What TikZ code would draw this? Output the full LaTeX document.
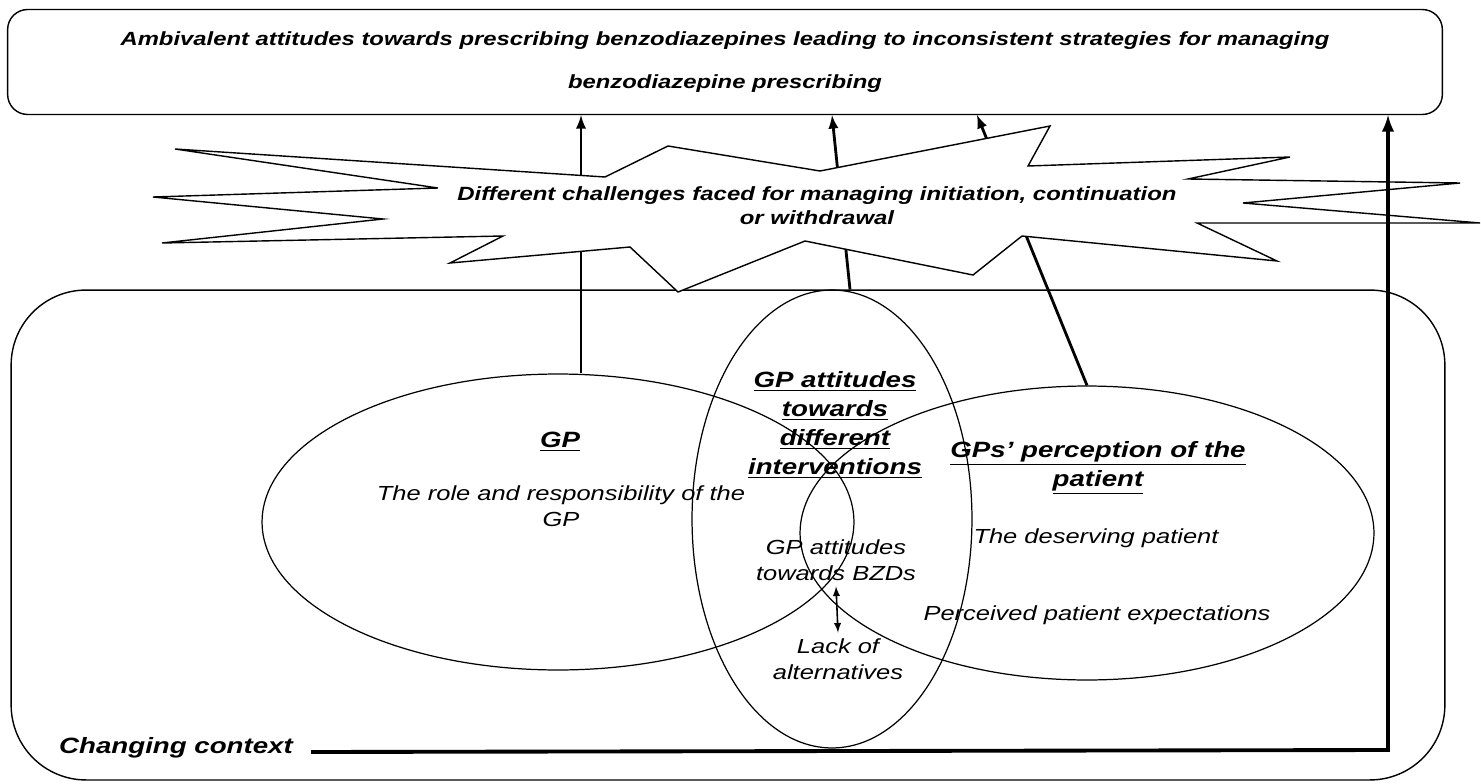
\documentclass[tikz,border=0pt]{standalone}
\usepackage{fontspec}
\setmainfont{Liberation Sans}[FakeStretch=1.25]
\usetikzlibrary{shapes.geometric,calc}
\tikzstyle{frame}=[draw, line width=0.8pt, inner sep=0pt]
\tikzstyle{venn}=[ellipse, draw, line width=0.7pt, inner sep=0pt]
\tikzstyle{link}=[->, >=latex, line width=1.6pt]
\tikzstyle{bodytext}=[align=center, font=\fontsize{11.6}{14.5}\selectfont\itshape]
\tikzstyle{headtext}=[align=center, font=\fontsize{12.6}{16.5}\selectfont\bfseries\itshape]

\begin{document}
\begin{tikzpicture}[x=0.02cm, y=-0.02cm]
\useasboundingbox (0,0) rectangle (1481,784);

% outcome box and context box
\node (topbox) at (725,62) [frame, rounded corners=0.4cm, minimum width=28.7cm, minimum height=2.1cm,
  align=center, font=\fontsize{10.85}{24.5}\selectfont\bfseries\itshape]
  {Ambivalent attitudes towards prescribing benzodiazepines leading to inconsistent strategies for managing\\
   benzodiazepine prescribing};
\node (ctxbox) at (728,535) [frame, rounded corners=1.5cm, minimum width=28.68cm, minimum height=9.8cm] {};

% the three ovals
\node (gp) at (558,522) [venn, minimum width=11.84cm, minimum height=5.92cm] {};
\node (mid) at (832,519) [venn, minimum width=5.6cm, minimum height=9.16cm] {};
\node (pt) at (1087,533) [venn, minimum width=11.48cm, minimum height=5.88cm] {};

% texts inside
\node (gphead) at (560,442) [headtext] {\underline{GP}};
\node (gprole) at (561,506) [bodytext] {The role and responsibility of the\\GP};
\node (mdhead) at (835,425) [headtext] {\underline{GP attitudes}\\\underline{towards}\\\underline{different}\\\underline{interventions}};
\node (bzd) at (836,560) [bodytext] {GP attitudes\\towards BZDs};
\node (lack) at (838,659) [bodytext] {Lack of\\alternatives};
\node (pthead) at (1098,468) [headtext] {\underline{GPs’ perception of the}\\\underline{patient}};
\node (deserve) at (1096,538) [bodytext] {The deserving patient};
\node (expect) at (1097,615) [bodytext] {Perceived patient expectations};
\node (ctx) at (176,748) [headtext] {Changing context};

\draw[<->, >=latex, line width=0.9pt] (bzd.south) -- (lack.north);

% influences up to the outcome
\draw[link] ($(gp.north)+(23,0)$) coordinate (a1) -- (a1 |- topbox.south);
\draw[link] ($(mid.north)+(18,0)$) -- ($(topbox.south -| mid.north)$);
\draw[link] (pt.north) -- (977,115);

% challenges
\draw[line width=0.8pt, fill=white] (175,149) -- (605,177) -- (668,146) -- (820,171) -- (1050,126)
  -- (1028,166) -- (1290,157) -- (1188,179) -- (1460,183) -- (1243,203) -- (1480,223)
  -- (1197,223) -- (1277,261) -- (1022,236) -- (973,275) -- (805,241) -- (678,292)
  -- (630,247) -- (450,263) -- (503,236) -- (162,243) -- (383,219) -- (153,197) -- (438,188) -- cycle;
\node (burst) at (817,206) [align=center, font=\fontsize{10.9}{13.5}\selectfont\bfseries\itshape]
  {Different challenges faced for managing initiation, continuation\\or withdrawal};

% changing context
\coordinate (corner) at (1388,750);
\draw[link, line width=2.2pt] (ctx.east) ++(12,4) -- (corner) -- (corner |- topbox.south);
\end{tikzpicture}
\end{document}
